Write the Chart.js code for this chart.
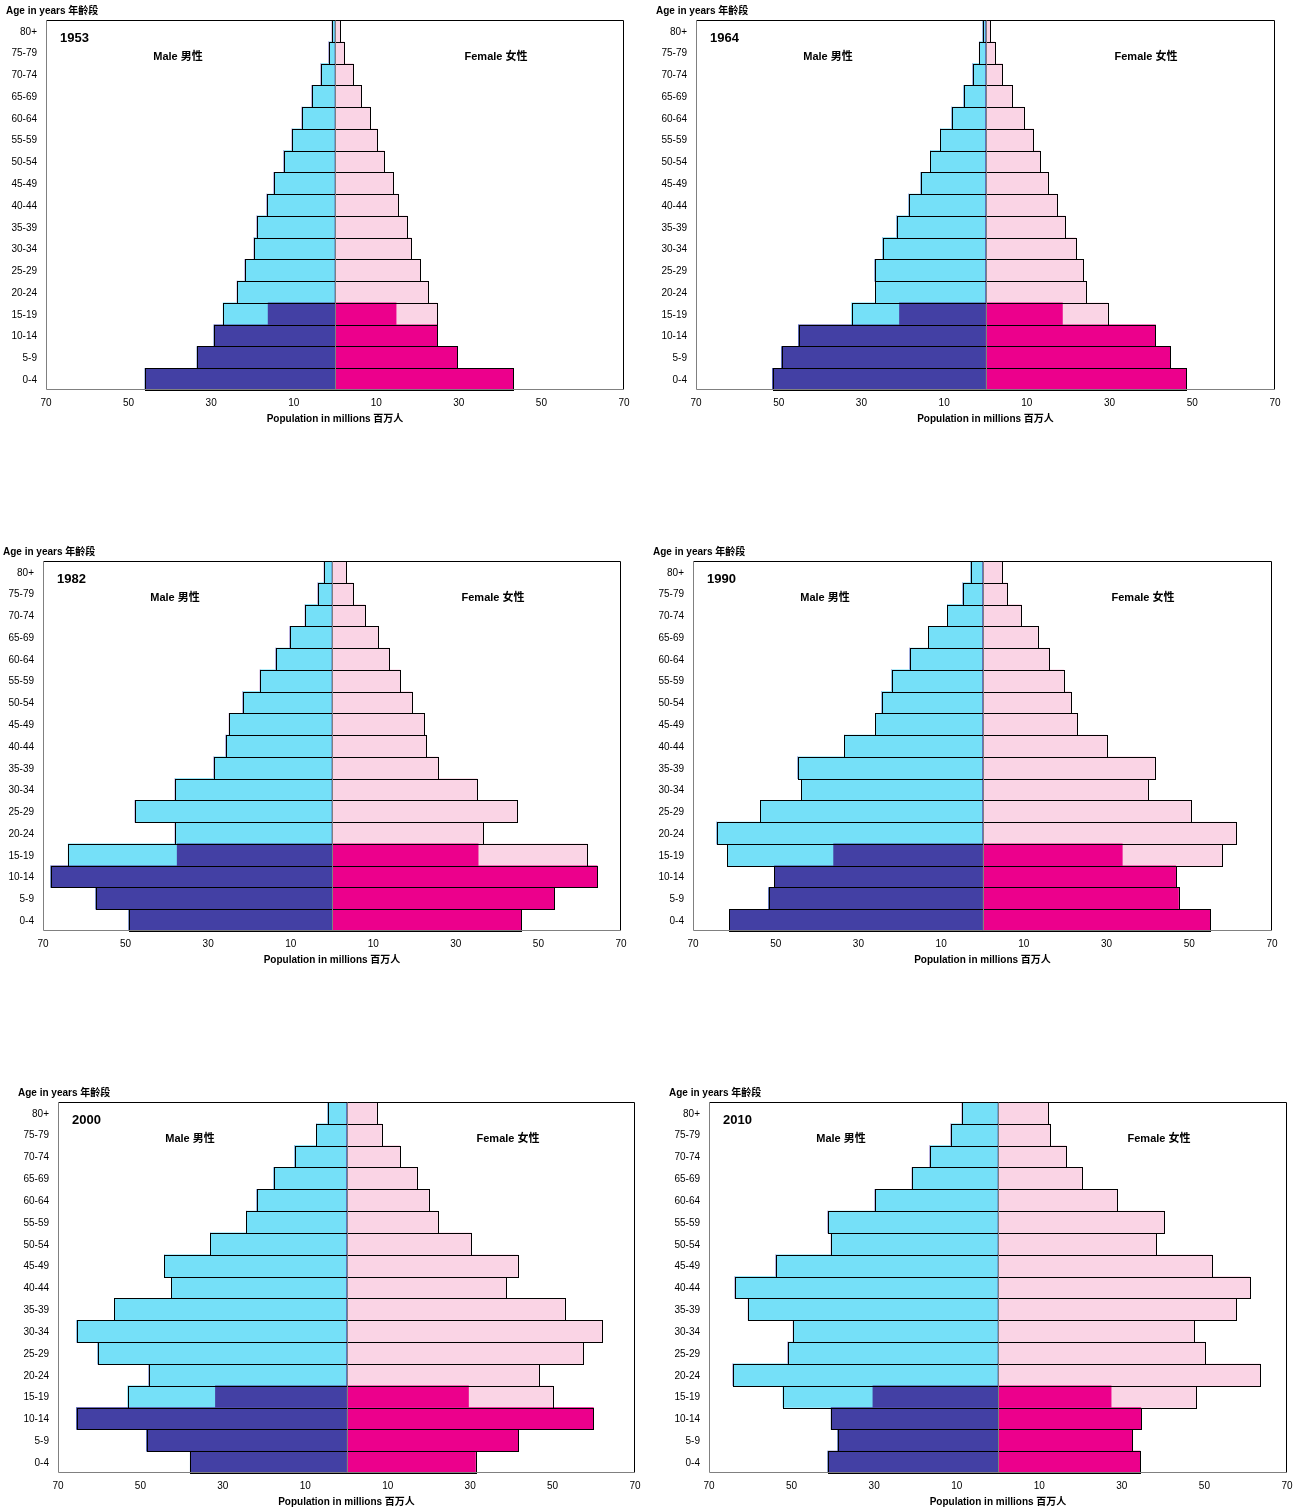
<!DOCTYPE html>
<html>
<head>
<meta charset="utf-8">
<script src="https://cdn.jsdelivr.net/npm/chart.js@4/dist/chart.umd.min.js"></script>
<style>
  body { margin: 0; background: #fff; }
  #page { position: relative; width: 1301px; height: 1510px; }
  canvas { position: absolute; }
</style>
</head>
<body>
<div id="page"></div>
<script>
// age groups, bottom (0-4) to top (80+)
var ageGroups = ['0-4', '5-9', '10-14', '15-19', '20-24', '25-29', '30-34', '35-39', '40-44',
  '45-49', '50-54', '55-59', '60-64', '65-69', '70-74', '75-79', '80+'];
var tickValues = [-70, -50, -30, -10, 10, 30, 50, 70];

// population in millions, per age group (same order as ageGroups)
var male1953 = [46.0, 33.4, 29.3, 27.1, 23.7, 21.8, 19.6, 18.9, 16.5, 14.8, 12.4, 10.4, 8.0, 5.6, 3.4, 1.5, 0.7];
var female1953 = [43.1, 29.5, 24.7, 24.7, 22.5, 20.6, 18.4, 17.4, 15.3, 14.0, 11.9, 10.2, 8.5, 6.3, 4.4, 2.2, 1.2];
var male1964 = [51.5, 49.3, 45.2, 32.4, 26.6, 26.8, 24.9, 21.5, 18.6, 15.7, 13.3, 10.9, 8.2, 5.3, 3.1, 1.5, 0.7];
var female1964 = [48.6, 44.7, 41.1, 29.5, 24.2, 23.5, 21.8, 19.3, 17.2, 15.0, 13.1, 11.6, 9.2, 6.3, 4.1, 2.2, 1.2];
var male1982 = [49.2, 57.2, 68.1, 63.9, 38.0, 47.7, 38.0, 28.6, 25.7, 24.9, 21.6, 17.4, 13.6, 10.2, 6.5, 3.4, 1.9];
var female1982 = [45.8, 53.8, 64.2, 61.8, 36.6, 44.8, 35.1, 25.7, 22.8, 22.3, 19.4, 16.5, 13.8, 11.1, 8.0, 5.1, 3.4];
var male1990 = [61.2, 51.7, 50.3, 61.7, 64.3, 53.7, 43.8, 44.7, 33.4, 25.9, 24.4, 22.0, 17.6, 13.1, 8.5, 4.8, 2.9];
var female1990 = [55.1, 47.4, 46.7, 58.0, 61.2, 50.3, 39.9, 41.6, 30.0, 22.9, 21.3, 19.6, 16.2, 13.3, 9.4, 6.0, 4.8];
var male2000 = [37.9, 48.5, 65.5, 53.1, 48.0, 60.4, 65.5, 56.3, 42.5, 44.2, 33.0, 24.3, 21.8, 17.7, 12.6, 7.3, 4.6];
var female2000 = [31.3, 41.7, 59.9, 50.0, 46.6, 57.3, 62.1, 52.9, 38.8, 41.5, 30.3, 22.1, 19.9, 17.0, 12.9, 8.5, 7.3];
var male2010 = [41.2, 38.8, 40.4, 52.1, 64.2, 50.9, 49.6, 60.5, 63.7, 53.8, 40.4, 41.2, 29.8, 20.8, 16.5, 11.4, 8.7];
var female2010 = [34.4, 32.5, 34.6, 48.0, 63.5, 50.1, 47.5, 57.6, 61.0, 51.8, 38.3, 40.2, 28.8, 20.3, 16.5, 12.6, 12.1];

// under-18 part of the 15-19 group (ages 15-17)
var years = ['1953', '1964', '1982', '1990', '2000', '2010'];
var male15to17 = [16.2, 20.8, 37.5, 36.0, 31.8, 30.3];
var female15to17 = [14.8, 18.6, 35.4, 33.8, 29.6, 27.4];
var maleSeries = [male1953, male1964, male1982, male1990, male2000, male2010];
var femaleSeries = [female1953, female1964, female1982, female1990, female2000, female2010];

// plot area of each pyramid on the page: left, top, right, bottom
var plotBoxes = [
  [46, 20, 624, 390], [696, 20, 1275, 390],
  [43, 561, 621, 931], [693, 561, 1272, 931],
  [58, 1102, 635, 1473], [709, 1102, 1287, 1473]
];

var LIGHT_BLUE = '#75e0f8', DARK_BLUE = '#4340a4', DARK_PINK = '#ec008c', LIGHT_PINK = '#fad4e5';
var FONT = '"Liberation Sans", Arial, "Noto Sans CJK SC", sans-serif';

// split a total into under-18 part and 18+ part
function youngPart(total, part15to17) {
  return total.map(function (v, i) {
    if (i < 3) return v;
    if (i == 3) return part15to17;
    return 0;
  });
}
function oldPart(total, part15to17) {
  return total.map(function (v, i) {
    if (i < 3) return 0;
    if (i == 3) return v - part15to17;
    return v;
  });
}
function neg(arr) { return arr.map(function (v) { return -v; }); }

var framePlugin = {
  id: 'frame',
  afterDatasetsDraw: function (chart) {
    var ctx = chart.ctx, a = chart.chartArea;
    var x0 = chart.scales.x.getPixelForValue(0);
    ctx.save();
    // outline of each full bar (male side and female side)
    ctx.strokeStyle = '#000';
    ctx.lineWidth = 1;
    for (var side = 0; side < 2; side++) {
      var m1 = chart.getDatasetMeta(side * 2), m2 = chart.getDatasetMeta(side * 2 + 1);
      for (var i = 0; i < ageGroups.length; i++) {
        var els = [m1.data[i], m2.data[i]];
        var lo = Infinity, hi = -Infinity, top, bot;
        els.forEach(function (el) {
          if (Math.abs(el.x - el.base) < 0.01) return;
          lo = Math.min(lo, el.x, el.base);
          hi = Math.max(hi, el.x, el.base);
          top = el.y - el.height / 2;
          bot = el.y + el.height / 2;
        });
        if (lo == Infinity) continue;
        ctx.strokeRect(Math.round(lo) + 0.5, Math.round(top) + 0.5,
          Math.round(hi) - Math.round(lo), Math.round(bot) - Math.round(top));
      }
    }
    // plot frame
    var L = Math.round(a.left) + 0.5, R = Math.round(a.right) - 0.5;
    var T = Math.round(a.top) + 0.5, B = Math.round(a.bottom) - 0.5;
    ctx.strokeStyle = '#000';
    ctx.beginPath();
    ctx.moveTo(L, T); ctx.lineTo(R, T); ctx.lineTo(R, B);
    ctx.stroke();
    ctx.strokeStyle = '#808080';
    ctx.beginPath();
    ctx.moveTo(L, T); ctx.lineTo(L, B); ctx.lineTo(R, B);
    ctx.moveTo(Math.round(x0) + 0.5, T); ctx.lineTo(Math.round(x0) + 0.5, B);
    ctx.stroke();
    ctx.restore();
  },
  afterDraw: function (chart) {
    var ctx = chart.ctx, a = chart.chartArea;
    var yr = chart.options.plugins.frame.year;
    ctx.save();
    ctx.fillStyle = '#000';
    ctx.textBaseline = 'middle';
    ctx.font = 'bold 10px ' + FONT;
    ctx.textAlign = 'left';
    ctx.fillText('Age in years 年齡段', a.left - 40, a.top - 9);
    ctx.font = 'bold 13px ' + FONT;
    ctx.fillText(yr, a.left + 14, a.top + 18);
    ctx.font = 'bold 11px ' + FONT;
    ctx.textAlign = 'center';
    ctx.fillText('Male 男性', a.left + 132, a.top + 37);
    ctx.fillText('Female 女性', a.left + 450, a.top + 37);
    ctx.font = 'bold 10px ' + FONT;
    ctx.fillText('Population in millions 百万人', (a.left + a.right) / 2, a.bottom + 29);
    ctx.restore();
  }
};

var page = document.getElementById('page');
var PAD_L = 46, PAD_T = 20, PAD_R = 10, PAD_B = 18, Y_W = 46, X_H = 24;

years.forEach(function (yr, k) {
  var box = plotBoxes[k];
  var cv = document.createElement('canvas');
  var w = box[2] - box[0] + PAD_L + PAD_R;
  var h = box[3] - box[1] + PAD_T + X_H + PAD_B;
  cv.width = w; cv.height = h;
  cv.style.left = (box[0] - PAD_L) + 'px';
  cv.style.top = (box[1] - PAD_T) + 'px';
  cv.style.width = w + 'px'; cv.style.height = h + 'px';
  page.appendChild(cv);

  var male = maleSeries[k], female = femaleSeries[k];
  new Chart(cv, {
    type: 'bar',
    data: {
      labels: ageGroups,
      datasets: [
        { label: 'Male under 18', data: neg(youngPart(male, male15to17[k])), backgroundColor: DARK_BLUE },
        { label: 'Male 18+', data: neg(oldPart(male, male15to17[k])), backgroundColor: LIGHT_BLUE },
        { label: 'Female under 18', data: youngPart(female, female15to17[k]), backgroundColor: DARK_PINK },
        { label: 'Female 18+', data: oldPart(female, female15to17[k]), backgroundColor: LIGHT_PINK }
      ]
    },
    options: {
      indexAxis: 'y',
      responsive: false,
      animation: false,
      devicePixelRatio: 1,
      layout: { padding: { left: 0, top: PAD_T, right: PAD_R, bottom: PAD_B } },
      datasets: { bar: { barPercentage: 1, categoryPercentage: 1, borderWidth: 0 } },
      plugins: { legend: { display: false }, tooltip: { enabled: false }, frame: { year: yr } },
      scales: {
        x: {
          stacked: true, min: -70, max: 70,
          grid: { display: false, drawTicks: false },
          border: { display: false },
          afterBuildTicks: function (s) { s.ticks = tickValues.map(function (v) { return { value: v }; }); },
          afterFit: function (s) { s.height = X_H; s.paddingLeft = 0; s.paddingRight = 0; },
          ticks: {
            padding: 7, color: '#000', maxRotation: 0, autoSkip: false,
            font: { family: FONT, size: 10 },
            callback: function (v) { return Math.abs(v); }
          }
        },
        y: {
          stacked: true, reverse: true,
          grid: { display: false, drawTicks: false },
          border: { display: false },
          afterFit: function (s) { s.width = Y_W; s.paddingTop = 0; s.paddingBottom = 0; },
          ticks: { padding: 9, labelOffset: 1, color: '#000', autoSkip: false, font: { family: FONT, size: 10 } }
        }
      }
    },
    plugins: [framePlugin]
  });
});
</script>
</body>
</html>
